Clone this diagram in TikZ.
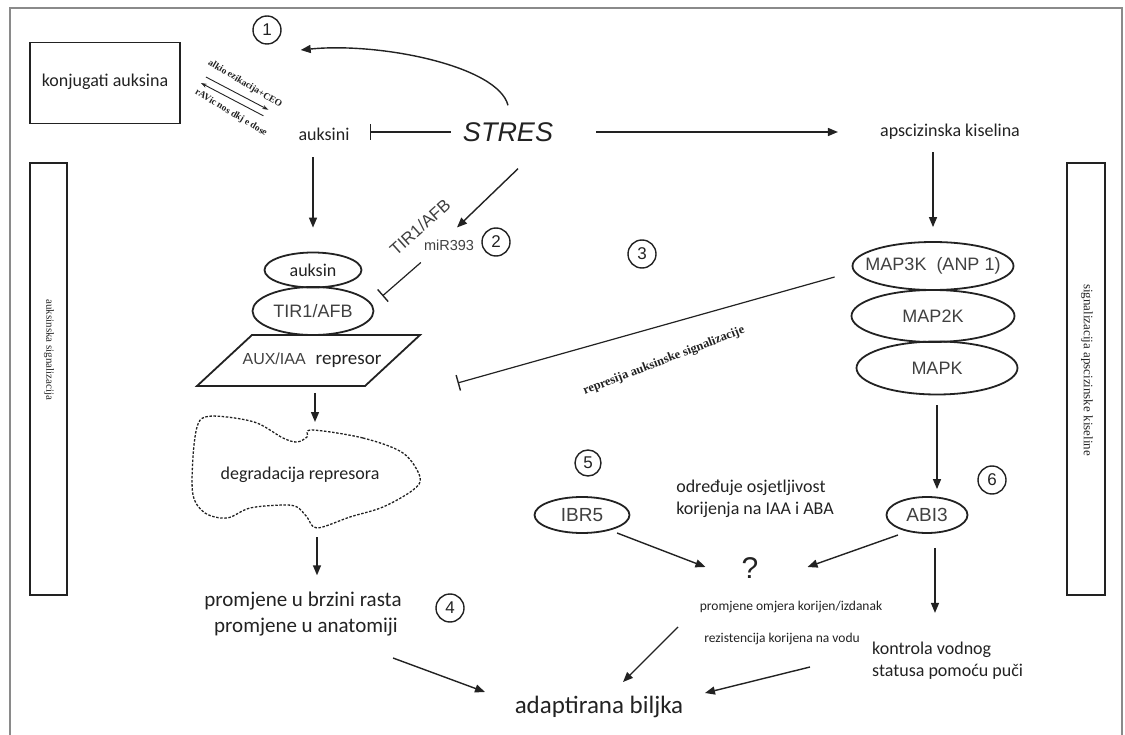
\documentclass[tikz,border=0pt]{standalone}
\usepackage{fontspec}
\setmainfont{Carlito}
\newfontfamily\arialf{Liberation Sans}
\newfontfamily\timesf{Liberation Serif}
\usetikzlibrary{arrows.meta,shapes.geometric,calc}
\definecolor{ink}{HTML}{222222}
\definecolor{gtext}{HTML}{404040}
\definecolor{framec}{HTML}{8A8A8A}
\begin{document}
\begin{tikzpicture}[x=1pt,y=-1pt,
 cal/.style={inner sep=0pt, text=ink, font=\fontsize{18}{22}\selectfont, text height=12pt, text depth=4pt},
 ar/.style={inner sep=0pt, text=gtext, font=\arialf\fontsize{18}{22}\selectfont},
 oval/.style={ellipse, draw=ink, line width=1.8pt, inner sep=0pt, text=gtext, font=\arialf\fontsize{18}{22}\selectfont},
 num/.style={circle, draw=ink, line width=1.4pt, minimum size=28pt, inner sep=0pt, text=ink, font=\arialf\fontsize{17}{20}\selectfont},
 arr/.style={draw=ink, line width=1.4pt, -{Triangle[length=10pt,width=8pt]}},
 thinarr/.style={draw=ink, line width=0.9pt, -{Stealth[length=6pt,width=4pt]}},
 inh/.style={draw=ink, line width=1.2pt, -{Bar[width=16pt,line width=1.4pt]}},
 vbox/.style={draw=ink, line width=2pt},
 small/.style={inner sep=0pt, text=ink, font=\timesf\bfseries\fontsize{9.5}{11}\selectfont},
]
\useasboundingbox (0,0) rectangle (1125,735);
% outer frame
\draw[framec, line width=2pt] (10,735) -- (10,8) -- (1122,8) -- (1122,735);

% side boxes
\draw[vbox] (30,163) rectangle (67,595);
\draw[vbox] (1067,163) rectangle (1105,595);
\node[inner sep=0pt, text=ink, rotate=-90, font=\timesf\fontsize{11}{13}\selectfont] (ltxt) at (49,350) {auksinska signalizacija};
\node[inner sep=0pt, text=ink, rotate=-90, font=\timesf\fontsize{13}{15}\selectfont] (rtxt) at (1087,370) {signalizacija apscizinske kiseline};

% top-left
\node[draw=ink, line width=1.8pt, minimum width=150pt, minimum height=81pt, cal] (konj) at (105,83) {konjugati auksina};
\node[cal] (auksini) at (324,137) {auksini};
\node[inner sep=0pt, text=ink, font=\arialf\itshape\fontsize{27}{30}\selectfont, text height=20pt, text depth=1pt] (stres) at (508,132) {STRES};
\node[cal] (aba) at (950,133) {apscizinska kiselina};

\node[num] (c1) at (267,30) {1};
\node[num] (c2) at (496,242) {2};
\node[num] (c3) at (642,254) {3};
\node[num] (c4) at (450,608) {4};
\node[num, minimum size=26pt] (c5) at (588,463) {5};
\node[num] (c6) at (992,480) {6};

\node[small, rotate=-31] (k1) at (245,84) {alkio ezikacija+CEO};
\node[small, rotate=-31] (k2) at (231,113) {rAVic nos dkj e dose};

% left column
\node[oval, minimum width=121pt, minimum height=48pt] (tir) at (313,311) {TIR1/AFB};
\node[oval, minimum width=97pt, minimum height=35pt, font=\fontsize{18}{22}\selectfont, text=ink] (auksin) at (313,270) {auksin};
\draw[draw=ink, line width=1.8pt] (252,335) -- (420,335) -- (365,386) -- (197,386) -- cycle;
\node[inner sep=0pt] (auxt) at (312,360) {{\arialf\color{gtext}\fontsize{16}{20}\selectfont AUX/IAA}\hspace{10pt}{\color{ink}\fontsize{19}{22}\selectfont represor}};
\coordinate (auxbot) at (315,386);
\coordinate (cloudtop) at (315,429);
\coordinate (cloudbot) at (317,528);
\draw[ink, line width=1.3pt, dash pattern=on 2.5pt off 1.6pt] plot[smooth cycle, tension=0.55] coordinates {
 (312,430) (363,438) (403,453) (420,477) (413,490) (383,507) (350,517) (317,528)
 (307,517) (297,507) (283,505) (250,508) (227,518) (205,513) (193,495) (193,457)
 (197,427) (205,417) (227,417) (257,423) (283,438) (297,442) (307,437)};
\node[cal] (degr) at (300,475) {degradacija represora};
\node[cal, font=\fontsize{21}{24}\selectfont, text height=14pt, text depth=5pt] (prom1) at (303,602) {promjene u brzini rasta};
\node[cal, font=\fontsize{21}{24}\selectfont, text height=14pt, text depth=5pt] (prom2) at (306,628) {promjene u anatomiji};

\node[ar, rotate=42, font=\arialf\fontsize{17}{20}\selectfont] (tirlab) at (420,227) {TIR1/AFB};
\node[ar, font=\arialf\fontsize{14.5}{17}\selectfont] (mir) at (449,245) {miR393};
\node[inner sep=0pt, text=ink, rotate=21, font=\timesf\bfseries\fontsize{12.5}{15}\selectfont] (rep) at (664,361) {represija auksinske signalizacije};

% right column
\node[oval, minimum width=161pt, minimum height=48pt] (map3k) at (933,266) {\makebox[0pt]{MAP3K\ \ (ANP 1)}};
\node[oval, minimum width=163pt, minimum height=52pt] (map2k) at (933,316) {MAP2K};
\node[oval, minimum width=161pt, minimum height=53pt] (mapk) at (937,368) {MAPK};
\node[oval, minimum width=81pt, minimum height=36pt, font=\arialf\fontsize{19}{22}\selectfont] (abi3) at (927,515) {ABI3};
\node[oval, minimum width=95pt, minimum height=36pt, font=\arialf\fontsize{19}{22}\selectfont] (ibr5) at (582,515) {IBR5};
\node[inner sep=0pt, text=ink, font=\fontsize{18}{22}\selectfont, align=left] (odr) at (755,499) {određuje osjetljivost\\korijenja na IAA i ABA};
\node[inner sep=0pt, text=ink, font=\arialf\fontsize{30}{32}\selectfont] (q) at (750,568) {?};
\node[cal, font=\fontsize{13.5}{16}\selectfont, text height=9pt, text depth=3pt] (omjera) at (791,607) {promjene omjera korijen/izdanak};
\node[cal, font=\fontsize{13.5}{16}\selectfont, text height=9pt, text depth=3pt] (rezist) at (782,639) {rezistencija korijena na vodu};
\node[inner sep=0pt, text=ink, font=\fontsize{18}{22}\selectfont, align=left, anchor=west] (kon) at (872,661) {kontrola vodnog\\statusa pomoću puči};
\node[cal, font=\fontsize{25}{28}\selectfont, text height=17pt, text depth=6pt] (adapt) at (599,708) {adaptirana biljka};

% connectors
\draw[arr] ($(stres.north)+(0,-16)$) .. controls (498,66) and (380,42) .. ($(c1.east)+(19,20)$);
\draw[inh, shorten <=12pt, shorten >=20pt] (stres.west) -- (stres.west -| auksini.east);
\draw[arr, shorten <=43pt, shorten >=42pt] (stres.east) -- (stres.east -| aba.west);
\draw[arr, shorten <=12pt, shorten >=24pt] (auksini.south -| auksin.north) -- (auksin.north);
\draw[arr] ($(stres.south)+(10,26)$) -- ($(mir.north)+(8,-12)$);
\draw[inh] ($(mir.south west)+(-3,12)$) -- ($(tir.east)+(8,-15)$);
\draw[arr, shorten <=7pt, shorten >=7pt] (auxbot) -- (cloudtop);
\draw[arr, shorten <=9pt, shorten >=17pt] (cloudbot) -- (cloudbot |- prom1.north);
\draw[arr] ($(prom2.center)+(87,30)$) -- ($(adapt.center)+(-114,-16)$);
\draw[inh] ($(map3k.west)+(-17,11)$) -- ($(auxt.east)+(76,23)$);
\draw[arr, shorten <=11pt, shorten >=14pt] (aba.south -| map3k.north) -- (map3k.north);
\draw[arr, shorten <=10pt, shorten >=7pt] (mapk.south) -- (mapk.south |- abi3.north);
\draw[arr] ($(abi3.south)+(8,14)$) -- ($(abi3.south)+(8,79)$);
\draw[arr] ($(ibr5.center)+(35,18)$) -- ($(q.west)+(-36,-1)$);
\draw[arr] ($(abi3.center)+(-29,20)$) -- ($(q.east)+(49,-1)$);
\draw[arr] ($(omjera.center)+(-113,20)$) -- ($(adapt.center)+(24,-26)$);
\draw[arr] ($(kon.west)+(-62,6)$) -- ($(adapt.center)+(106,-15)$);
\draw[thinarr] ($(konj.east)+(25,-6)$) -- ($(auksini.north west)+(-30,-19)$);
\draw[thinarr] ($(auksini.north west)+(-35,-13)$) -- ($(konj.east)+(20,0)$);
\end{tikzpicture}
\end{document}
